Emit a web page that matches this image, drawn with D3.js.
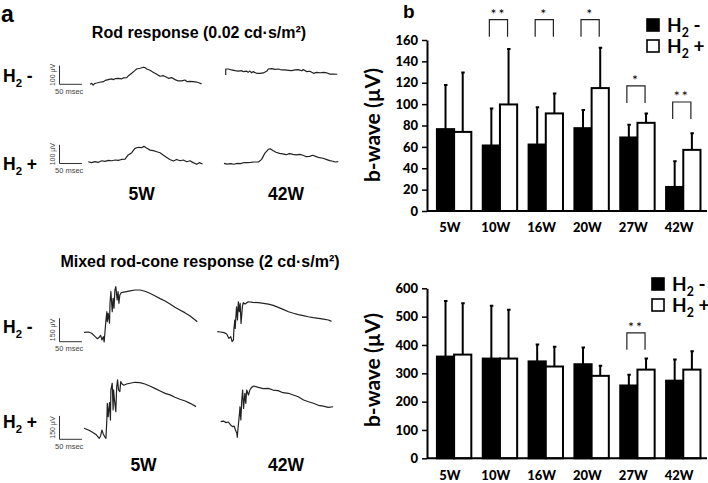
<!DOCTYPE html>
<html>
<head>
<meta charset="utf-8">
<script src="https://cdn.jsdelivr.net/npm/d3@7"></script>
<style>
  body { margin: 0; background: #fff; }
  text { fill: #000; }
</style>
</head>
<body>
<div id="fig"></div>
<script>
// ---- panel b data (b-wave amplitude, uV) ----
const weeks = ["5W", "10W", "16W", "20W", "27W", "42W"];
const rodMinusMean = [76.6, 61.3, 62.2, 77.5, 68.8, 22.5];
const rodMinusSD = [41.2, 34.7, 34.8, 16.9, 11.8, 24.1];
const rodPlusMean = [74, 99.7, 91.3, 115, 82.5, 57.2];
const rodPlusSD = [55.7, 51.9, 18.7, 37.8, 8.8, 15.6];
const rodSig = ["", "**", "*", "*", "*", "**"];
const rodBracket = [null, 179, 179, 179, 117, 102];
const rodTicks = [0, 20, 40, 60, 80, 100, 120, 140, 160];

const mixMinusMean = [359, 352, 342, 332, 257, 274];
const mixMinusSD = [196, 186, 60, 59, 38, 75];
const mixPlusMean = [366, 352, 324, 291, 313, 313];
const mixPlusSD = [181, 172, 70, 36, 39, 65];
const mixSig = ["", "", "", "", "**", ""];
const mixBracket = [null, null, null, null, 443, null];
const mixTicks = [0, 100, 200, 300, 400, 500, 600];

// ---- panel a traces: [msec, uV] relative to trace start ----
const rodMinus5W = [[0,0],[4,5],[7,-4],[11,5],[15,7],[22,11],[30,14],[34,21],[41,25],[48,29],[52,25],[56,30],[63,32],[71,29],[74,34],[82,36],[86,46],[93,59],[100,73],[104,82],[112,86],[119,91],[123,89],[127,82],[134,75],[141,64],[149,54],[156,43],[164,46],[170,39],[175,32],[182,36],[190,25],[197,18],[205,18],[212,23],[217,14],[223,16],[231,14],[238,12],[244,7],[249,2]];
const rodMinus42W = [[0,0],[0,32],[6,32],[13,27],[21,23],[28,21],[36,23],[39,18],[47,21],[50,14],[54,21],[58,12],[61,18],[69,9],[77,9],[84,11],[92,21],[95,32],[103,34],[110,30],[118,32],[125,27],[132,27],[140,25],[147,23],[155,27],[162,29],[170,23],[173,29],[181,18],[188,20],[196,9],[203,14],[211,12],[218,14],[226,11],[233,5],[240,5],[249,4]];
const rodPlus5W = [[0,0],[7,-5],[15,0],[22,-4],[30,5],[37,2],[45,7],[52,5],[60,9],[67,7],[74,12],[82,14],[89,36],[97,48],[104,71],[112,77],[119,75],[124,82],[130,73],[138,62],[145,59],[153,53],[160,48],[167,36],[175,23],[182,12],[190,4],[197,12],[205,5],[212,9],[220,0],[227,5],[234,-5],[242,-14],[248,-5],[255,-12]];
const rodPlus42W = [[0,0],[7,-4],[15,-2],[22,-5],[30,0],[37,-2],[45,4],[52,4],[60,5],[67,7],[77,7],[84,21],[91,53],[99,75],[103,78],[109,68],[116,59],[124,53],[131,50],[139,46],[146,52],[154,48],[161,45],[169,48],[176,43],[183,36],[191,37],[198,43],[206,36],[213,30],[221,27],[228,21],[236,14],[243,11],[248,7],[255,9]];
const mixMinus5W = [[0,0],[10,2],[17,-6],[25,-28],[30,-41],[34,-32],[37,-19],[40,-49],[43,-28],[45,-62],[49,79],[51,132],[52,68],[54,122],[57,58],[58,186],[60,261],[63,132],[65,218],[67,154],[69,271],[71,293],[74,207],[76,261],[78,186],[80,239],[83,254],[92,259],[103,265],[114,271],[125,271],[136,263],[147,250],[159,233],[170,216],[181,201],[192,182],[203,160],[214,143],[225,126],[237,105],[253,68]];
const mixMinus42W = [[0,0],[7,-2],[15,-6],[21,-15],[26,-43],[30,-32],[33,-64],[36,-53],[37,11],[39,75],[40,21],[42,118],[43,160],[45,75],[47,192],[49,128],[51,182],[53,53],[56,160],[58,186],[62,177],[69,192],[80,188],[92,186],[103,182],[114,177],[125,169],[136,156],[147,143],[159,128],[170,118],[181,109],[192,103],[203,96],[214,90],[226,86],[237,81],[248,75],[255,66]];
const mixPlus5W = [[0,0],[10,-11],[19,-26],[28,-43],[34,-64],[37,-49],[40,-11],[43,-36],[46,-53],[49,-64],[51,53],[52,160],[54,75],[57,165],[59,53],[60,246],[63,289],[65,118],[66,246],[68,182],[71,107],[73,267],[75,310],[77,246],[80,235],[82,299],[85,284],[89,276],[95,284],[103,289],[114,295],[125,293],[136,284],[147,271],[158,256],[170,239],[181,224],[192,214],[203,199],[214,186],[226,175],[237,160],[250,139]];
const mixPlus42W = [[0,0],[6,4],[12,-6],[17,-2],[22,-21],[27,-32],[30,-28],[33,-53],[36,-75],[37,-100],[39,-32],[42,53],[43,96],[45,11],[47,139],[49,203],[51,85],[54,182],[56,118],[58,203],[62,171],[65,203],[69,220],[74,229],[84,220],[95,212],[106,214],[117,203],[128,199],[139,186],[151,182],[162,171],[173,160],[185,139],[196,128],[207,118],[218,105],[229,100],[240,92],[251,96]];

const W = 708, H = 483;
const svg = d3.select("#fig").append("svg")
    .attr("width", W)
    .attr("height", H);

const sansA = "'Liberation Sans', Arial, sans-serif";
const sansB = "Lato, 'Open Sans', sans-serif";

// ================= panel a =================
const tScale = d3.scaleLinear().domain([0, 50]).range([0, 22.4]);
const rodV = d3.scaleLinear().domain([0, 100]).range([0, -18.7]);
const mixV = d3.scaleLinear().domain([0, 150]).range([0, -23.4]);

const line = (vs) => d3.line()
    .x(d => tScale(d[0]))
    .y(d => vs(d[1]));

function drawTrace(data, x0, y0, vs) {
  svg.append("path")
      .datum(data)
      .attr("transform", "translate(" + x0 + "," + y0 + ")")
      .attr("fill", "none")
      .attr("stroke", "#222")
      .attr("stroke-width", 1.2)
      .attr("stroke-linejoin", "round")
      .attr("d", line(vs));
}

function drawScaleBar(x0, y0, vs, val) {
  const g = svg.append("g").attr("transform", "translate(" + x0 + "," + y0 + ")");
  g.append("path")
      .attr("d", "M0," + vs(val) + "V0H" + tScale(50))
      .attr("fill", "none")
      .attr("stroke", "#333")
      .attr("stroke-width", 1);
  g.append("text")
      .attr("transform", "translate(-4.5," + (vs(val) / 2) + ") rotate(-90)")
      .attr("text-anchor", "middle")
      .style("font-family", sansA)
      .style("font-size", "7px")
      .style("fill", "#444")
      .text(val + " µV");
  g.append("text")
      .attr("x", -4.5)
      .attr("y", 9.5)
      .style("font-family", sansA)
      .style("font-size", "7.5px")
      .style("fill", "#444")
      .text("50 msec");
}

function groupLabel(x, y, sign, size, family) {
  const t = svg.append("text")
      .attr("x", x).attr("y", y)
      .style("font-family", family)
      .style("font-weight", "bold")
      .style("font-size", size + "px");
  t.append("tspan").text("H");
  t.append("tspan").attr("dy", size * 0.28).style("font-size", (size * 0.65) + "px").text("2");
  t.append("tspan").attr("dy", -size * 0.28).text(" " + sign);
}

svg.append("text").attr("x", 1).attr("y", 22)
    .style("font-family", sansA).style("font-weight", "bold").style("font-size", "23px")
    .text("a");

svg.append("text").attr("x", 199).attr("y", 38)
    .attr("text-anchor", "middle")
    .style("font-family", sansA).style("font-weight", "bold").style("font-size", "16px")
    .text("Rod response (0.02 cd·s/m²)");
svg.append("text").attr("x", 200).attr("y", 267)
    .attr("text-anchor", "middle")
    .style("font-family", sansA).style("font-weight", "bold").style("font-size", "16px")
    .text("Mixed rod-cone response (2 cd·s/m²)");

groupLabel(3, 82, "-", 17.5, sansA);
groupLabel(3, 170, "+", 17.5, sansA);
groupLabel(3, 333, "-", 17.5, sansA);
groupLabel(3, 428, "+", 17.5, sansA);

drawScaleBar(59.5, 84.3, rodV, 100);
drawScaleBar(59.5, 163.5, rodV, 100);
drawScaleBar(59.5, 341.7, mixV, 150);
drawScaleBar(59.5, 439.3, mixV, 150);

drawTrace(rodMinus5W, 90, 84.3, rodV);
drawTrace(rodMinus42W, 225.7, 75, rodV);
drawTrace(rodPlus5W, 88.3, 161.7, rodV);
drawTrace(rodPlus42W, 224, 163.3, rodV);
drawTrace(mixMinus5W, 84, 332.3, mixV);
drawTrace(mixMinus42W, 217.3, 331.7, mixV);
drawTrace(mixPlus5W, 84, 428.3, mixV);
drawTrace(mixPlus42W, 220.7, 421.7, mixV);

[[141.7, 200], [286, 200], [143.5, 471], [286, 471]].forEach((p, i) => {
  svg.append("text").attr("x", p[0]).attr("y", p[1])
      .attr("text-anchor", "middle")
      .style("font-family", sansA).style("font-weight", "bold").style("font-size", "17.5px")
      .text(i % 2 === 0 ? "5W" : "42W");
});

// ================= panel b =================
svg.append("text").attr("x", 403).attr("y", 18)
    .style("font-family", sansA).style("font-weight", "bold").style("font-size", "19px")
    .text("b");

const x = d3.scaleBand().domain(weeks).range([427, 702]);
const barW = 17.2;

function drawBars(cfg) {
  const y = d3.scaleLinear().domain(cfg.domain).range(cfg.range);
  const g = svg.append("g");

  const series = [
    { mean: cfg.minusMean, sd: cfg.minusSD, fill: "#000", off: -13 },
    { mean: cfg.plusMean, sd: cfg.plusSD, fill: "#fff", off: -13 + barW }
  ];
  const bx = (w, s) => x(w) + x.bandwidth() / 2 + s.off;

  series.forEach(s => {
    // error whiskers (upper only)
    g.selectAll(null)
        .data(weeks)
        .enter()
        .append("path")
        .attr("d", (w, i) => {
          const cx = bx(w, s) + barW / 2;
          const top = y(s.mean[i] + s.sd[i]);
          return "M" + cx + "," + y(s.mean[i]) + "V" + top + "M" + (cx - 1.5) + "," + top + "H" + (cx + 2);
        })
        .attr("stroke", "#000")
        .attr("stroke-width", 2)
        .attr("fill", "none");
    g.selectAll(null)
        .data(weeks)
        .enter()
        .append("rect")
        .attr("x", w => bx(w, s))
        .attr("y", (w, i) => y(s.mean[i]))
        .attr("width", barW)
        .attr("height", (w, i) => y(0) - y(s.mean[i]))
        .attr("fill", s.fill)
        .attr("stroke", "#000")
        .attr("stroke-width", 2);
  });

  // significance brackets
  weeks.forEach((w, i) => {
    if (cfg.bracket[i] == null) return;
    const x1 = bx(w, series[0]) + barW / 2 - 2;
    const x2 = bx(w, series[1]) + barW / 2 - 1;
    const top = y(cfg.bracket[i]);
    g.append("path")
        .attr("d", "M" + x1 + "," + (top + 17) + "V" + top + "H" + x2 + "V" + (top + 17))
        .attr("fill", "none")
        .attr("stroke", "#222")
        .attr("stroke-width", 1.2);
    g.append("text")
        .attr("x", (x1 + x2) / 2)
        .attr("y", top - 1)
        .attr("text-anchor", "middle")
        .style("font-family", sansB)
        .style("font-size", "14px")
        .style("letter-spacing", "2px")
        .text(cfg.sig[i]);
  });

  // y axis
  const ya = g.append("g")
      .attr("transform", "translate(427,0)")
      .call(d3.axisLeft(y).tickValues(cfg.ticks).tickSize(5).tickPadding(4).tickSizeOuter(0));
  ya.select(".domain").attr("stroke-width", 2);
  ya.selectAll(".tick line").attr("stroke-width", 1.5);
  ya.selectAll("text")
      .style("font-family", sansB)
      .style("font-weight", "900")
      .style("font-size", "13px");

  // x axis
  const xa = g.append("g")
      .attr("transform", "translate(0," + y(0) + ")")
      .call(d3.axisBottom(x).tickSize(0).tickPadding(12));
  xa.select(".domain").remove();
  g.append("line")
      .attr("x1", x.range()[0]).attr("x2", x.range()[1] + 5)
      .attr("y1", y(0)).attr("y2", y(0))
      .attr("stroke", "#000").attr("stroke-width", 2);
  xa.selectAll("text")
      .style("font-family", sansB)
      .style("font-weight", "900")
      .style("font-size", "13px");

  // y title
  svg.append("text")
      .attr("transform", "translate(380," + cfg.titleY + ") rotate(-90)")
      .attr("text-anchor", "middle")
      .style("font-family", sansB)
      .style("font-weight", "bold")
      .style("font-size", "21px")
      .text("b-wave (µV)");

  // legend
  const lg = svg.append("g").attr("transform", "translate(" + cfg.legend[0] + "," + cfg.legend[1] + ")");
  [["#000", "-"], ["#fff", "+"]].forEach((d, i) => {
    lg.append("rect")
        .attr("x", 1).attr("y", i * 21 + 1)
        .attr("width", 12).attr("height", 12)
        .attr("fill", d[0])
        .attr("stroke", "#000")
        .attr("stroke-width", 1.6);
  });
  groupLabel(cfg.legend[0] + 21, cfg.legend[1] + 14, "-", 19, sansB);
  groupLabel(cfg.legend[0] + 21, cfg.legend[1] + 35, "+", 19, sansB);
}

drawBars({
  domain: [0, 160], range: [211, 40], ticks: rodTicks,
  minusMean: rodMinusMean, minusSD: rodMinusSD,
  plusMean: rodPlusMean, plusSD: rodPlusSD,
  sig: rodSig, bracket: rodBracket,
  titleY: 125, legend: [646, 18]
});

drawBars({
  domain: [0, 600], range: [458.3, 288.3], ticks: mixTicks,
  minusMean: mixMinusMean, minusSD: mixMinusSD,
  plusMean: mixPlusMean, plusSD: mixPlusSD,
  sig: mixSig, bracket: mixBracket,
  titleY: 370, legend: [651, 277]
});
</script>
</body>
</html>
